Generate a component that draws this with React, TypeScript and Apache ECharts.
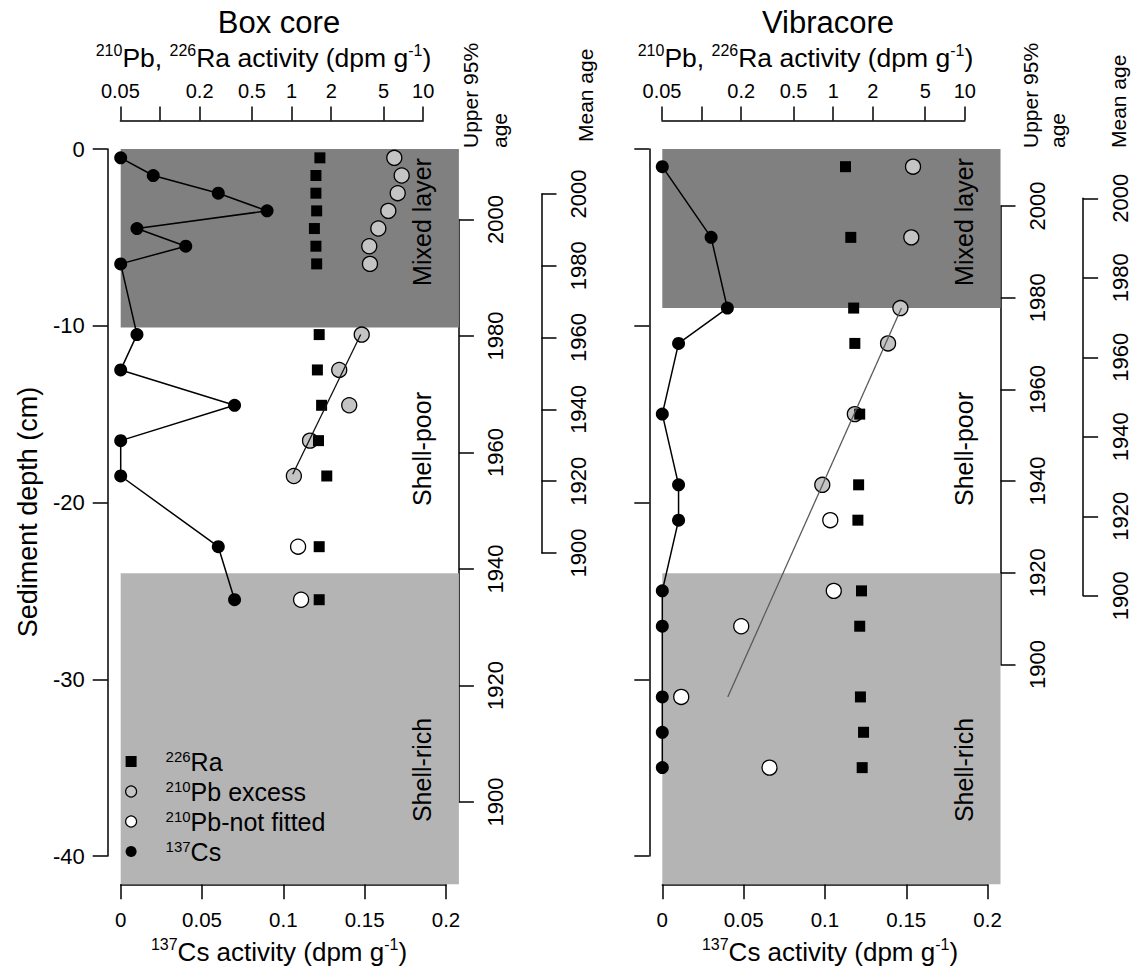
import React, { useEffect, useRef } from "react";
import * as echarts from "echarts";

// ----------------------------- data -----------------------------
// Box core
const BOX_DEPTH = [-0.5, -1.5, -2.5, -3.5, -4.5, -5.5, -6.5, -10.5, -12.5, -14.5, -16.5, -18.5, -22.5, -25.5];
const BOX_CS = [0, 0.02, 0.06, 0.09, 0.01, 0.04, 0, 0.01, 0, 0.07, 0, 0, 0.06, 0.07];
const BOX_RA = [1.64, 1.53, 1.53, 1.55, 1.49, 1.53, 1.55, 1.62, 1.57, 1.69, 1.6, 1.85, 1.62, 1.62];
const BOX_PB_EXCESS_DEPTH = [-0.5, -1.5, -2.5, -3.5, -4.5, -5.5, -6.5, -10.5, -12.5, -14.5, -16.5, -18.5];
const BOX_PB_EXCESS = [6.03, 6.86, 6.4, 5.43, 4.56, 3.89, 3.94, 3.41, 2.3, 2.74, 1.38, 1.04];
const BOX_PB_NOTFIT_DEPTH = [-22.5, -25.5];
const BOX_PB_NOTFIT = [1.12, 1.18];
const BOX_FIT_DEPTH = [-10.5, -18.4];
const BOX_FIT = [3.35, 1.02];
const BOX_ZONE_TOPS = [0, -10.1, -24];

// Vibracore
const VIB_DEPTH = [-1, -5, -9, -11, -15, -19, -21, -25, -27, -31, -33, -35];
const VIB_CS = [0, 0.03, 0.04, 0.01, 0, 0.01, 0.01, 0, 0, 0, 0, 0];
const VIB_RA = [1.24, 1.36, 1.43, 1.46, 1.59, 1.56, 1.54, 1.64, 1.59, 1.61, 1.7, 1.66];
const VIB_PB_EXCESS_DEPTH = [-1, -5, -9, -11, -15, -19];
const VIB_PB_EXCESS = [4.04, 3.92, 3.24, 2.61, 1.46, 0.826];
const VIB_PB_NOTFIT_DEPTH = [-21, -25, -27, -31, -35];
const VIB_PB_NOTFIT = [0.95, 1.01, 0.2, 0.07, 0.328];
const VIB_FIT_DEPTH = [-9, -31];
const VIB_FIT = [3.3, 0.158];
const VIB_ZONE_TOPS = [0, -9, -24];

const ZONE_NAMES = ["Mixed layer", "Shell-poor", "Shell-rich"];
const ZONE_COLORS = ["#808080", "", "#b4b4b4"];

// axis ticks
const LOG_TICKS = [0.05, 0.1, 0.2, 0.5, 1, 2, 5, 10];
const LOG_LABELS = [0.05, 0.2, 0.5, 1, 2, 5, 10];
const CS_MIN = 0, CS_MAX = 0.2, CS_STEP = 0.05;
const DEPTH_MIN = -40, DEPTH_MAX = 0, DEPTH_STEP = 10;
const AGE_MIN = 1900, AGE_MAX = 2000, AGE_STEP = 20;

const LEGEND_PARTS: Record<string, [string, string]> = {
  "226Ra": ["226", "Ra"],
  "210Pb excess": ["210", "Pb excess"],
  "210Pb-not fitted": ["210", "Pb-not fitted"],
  "137Cs": ["137", "Cs"],
};

// ----------------------------- layout -----------------------------
const FONT = "'Liberation Sans', Arial, Helvetica, sans-serif";
const PLOT_TOP = 120.5;
const PLOT_BOTTOM = 884.3;
const DEPTH0_Y = 149;
const PX_PER_CM = 17.675;
const PLOT_W = 351.2;
const CS_OFF = 13;
const PX_PER_CS = 1626.5;
const LOG_OFF = 12.7;
const PX_PER_DEC = 131.6;
const MEAN_DX = 82.6;

const PANELS = [
  {
    title: "Box core", left: 107.7, titleX: 279, topTitleX: 263.5, botTitleX: 279,
    csDepth: BOX_DEPTH, cs: BOX_CS, raDepth: BOX_DEPTH, ra: BOX_RA,
    exDepth: BOX_PB_EXCESS_DEPTH, ex: BOX_PB_EXCESS, nfDepth: BOX_PB_NOTFIT_DEPTH, nf: BOX_PB_NOTFIT,
    fitDepth: BOX_FIT_DEPTH, fit: BOX_FIT, fitColor: "#111", zoneTops: BOX_ZONE_TOPS,
    upper: [219.5, 802], mean: [194, 553], depthLabels: true,
    upperTitleX: [470.5, 499], meanTitleX: 585, meanTitleY: 142,
  },
  {
    title: "Vibracore", left: 649.3, titleX: 828, topTitleX: 805.5, botTitleX: 830,
    csDepth: VIB_DEPTH, cs: VIB_CS, raDepth: VIB_DEPTH, ra: VIB_RA,
    exDepth: VIB_PB_EXCESS_DEPTH, ex: VIB_PB_EXCESS, nfDepth: VIB_PB_NOTFIT_DEPTH, nf: VIB_PB_NOTFIT,
    fitDepth: VIB_FIT_DEPTH, fit: VIB_FIT, fitColor: "#5a5a5a", zoneTops: VIB_ZONE_TOPS,
    upper: [206, 664.5], mean: [198.3, 595.8], depthLabels: false,
    upperTitleX: [1030.5, 1057.5], meanTitleX: 1118, meanTitleY: 148,
  },
];
const ZONE_LABEL_Y = [222, 449, 770];

function zip(xs: number[], ys: number[]) {
  return xs.map((x, i) => [x, ys[i]]);
}

function buildOption() {
  const grids: any[] = [];
  const xAxis: any[] = [];
  const yAxis: any[] = [];
  const series: any[] = [];
  const graphics: any[] = [];

  const lineStyle = { color: "#000", width: 1.5 };
  const axisLine = { show: true, onZero: false, lineStyle };
  const tick = (len: number, extra: any = {}) => ({ show: true, inside: false, length: len, lineStyle, ...extra });
  const addGrid = (left: number, top: number, width: number, height: number) => {
    grids.push({ left, top, width, height, containLabel: false, outerBoundsMode: "none", show: false });
    return grids.length - 1;
  };
  const hiddenAxis = (g: number) => ({ gridIndex: g, type: "value", min: 0, max: 1, show: false });

  const depthMin = -(PLOT_BOTTOM - DEPTH0_Y) / PX_PER_CM;
  const depthMax = (DEPTH0_Y - PLOT_TOP) / PX_PER_CM;
  const csMin = -CS_OFF / PX_PER_CS;
  const csMax = (PLOT_W - CS_OFF) / PX_PER_CS;
  const logMin = LOG_TICKS[0] * Math.pow(10, -LOG_OFF / PX_PER_DEC);
  const logMax = LOG_TICKS[0] * Math.pow(10, (PLOT_W - LOG_OFF) / PX_PER_DEC);

  const text = (x: number, y: number, t: string, fontSize: number, opts: any = {}) => ({
    type: "text", x, y, rotation: opts.rot || 0, silent: true, z: 100,
    style: {
      text: t, fontSize, fontFamily: FONT, fill: "#000",
      align: opts.align || "center", verticalAlign: opts.va || "middle",
      textAlign: opts.align || "center", textVerticalAlign: opts.va || "middle",
      rich: opts.rich,
    },
  });
  const mkRich = (m: number, s: number) => ({
    m: { fontSize: m, fontFamily: FONT, fill: "#000", lineHeight: m + 5 },
    s: { fontSize: s, fontFamily: FONT, fill: "#000", lineHeight: s, verticalAlign: "top" },
  });

  PANELS.forEach((p) => {
    const L = p.left;
    const R = L + PLOT_W;
    // ---- main data grid ----
    const g = addGrid(L, PLOT_TOP, PLOT_W, PLOT_BOTTOM - PLOT_TOP);
    const csX = xAxis.length;
    xAxis.push({ gridIndex: g, type: "value", position: "bottom", min: csMin, max: csMax, show: false });
    const logX = xAxis.length;
    xAxis.push({ gridIndex: g, type: "log", logBase: 10, position: "top", min: logMin, max: logMax, show: false });
    const dY = yAxis.length;
    yAxis.push({ gridIndex: g, type: "value", min: depthMin, max: depthMax, show: false });

    // zones
    const areas: any[] = [];
    p.zoneTops.forEach((top, i) => {
      if (!ZONE_COLORS[i]) return;
      const bottom = i + 1 < p.zoneTops.length ? p.zoneTops[i + 1] : depthMin;
      areas.push([
        { xAxis: 0, yAxis: top, itemStyle: { color: ZONE_COLORS[i], opacity: 1, borderWidth: 0 } },
        { xAxis: csMax, yAxis: bottom },
      ]);
    });
    series.push({
      type: "line", xAxisIndex: csX, yAxisIndex: dY, data: [], silent: true, z: 1,
      markArea: { silent: true, label: { show: false }, data: areas },
    });

    series.push({
      name: "137Cs", type: "line", xAxisIndex: csX, yAxisIndex: dY,
      data: zip(p.cs, p.csDepth), symbol: "circle", symbolSize: 13, showSymbol: true,
      itemStyle: { color: "#000" }, lineStyle: { color: "#000", width: 1.5 }, z: 3, silent: true,
    });
    series.push({
      name: "210Pb excess", type: "scatter", xAxisIndex: logX, yAxisIndex: dY,
      data: zip(p.ex, p.exDepth), symbol: "circle", symbolSize: 15,
      itemStyle: { color: "#c4c4c4", borderColor: "#000", borderWidth: 1.3, opacity: 1 }, z: 4, silent: true,
    });
    series.push({
      name: "210Pb-not fitted", type: "scatter", xAxisIndex: logX, yAxisIndex: dY,
      data: zip(p.nf, p.nfDepth), symbol: "circle", symbolSize: 15,
      itemStyle: { color: "#ffffff", borderColor: "#000", borderWidth: 1.3, opacity: 1 }, z: 4, silent: true,
    });
    series.push({
      name: "226Ra", type: "scatter", xAxisIndex: logX, yAxisIndex: dY,
      data: zip(p.ra, p.raDepth), symbol: "rect", symbolSize: 11,
      itemStyle: { color: "#000", opacity: 1 }, z: 5, silent: true,
    });
    series.push({
      type: "line", xAxisIndex: logX, yAxisIndex: dY, data: zip(p.fit, p.fitDepth),
      symbol: "none", lineStyle: { color: p.fitColor, width: 1.3 }, z: 6, silent: true,
    });

    // ---- bottom Cs axis ----
    const gb = addGrid(L + CS_OFF, PLOT_BOTTOM - 10, (CS_MAX - CS_MIN) * PX_PER_CS, 10);
    xAxis.push({
      gridIndex: gb, type: "value", position: "bottom", min: CS_MIN, max: CS_MAX, interval: CS_STEP,
      axisLine, axisTick: tick(15), splitLine: { show: false },
      axisLabel: { show: true, margin: 25, fontSize: 20.5, fontFamily: FONT, color: "#000", showMinLabel: true, showMaxLabel: true },
    });
    yAxis.push(hiddenAxis(gb));

    // ---- top log axis ----
    const lt = LOG_TICKS.map((v) => Math.log10(v));
    const gt = addGrid(L + LOG_OFF, PLOT_TOP, (lt[lt.length - 1] - lt[0]) * PX_PER_DEC, 10);
    xAxis.push({
      gridIndex: gt, type: "value", position: "top", min: lt[0], max: lt[lt.length - 1],
      axisLine, axisTick: tick(14, { customValues: lt }), splitLine: { show: false },
      axisLabel: {
        show: true, margin: 20, fontSize: 20, fontFamily: FONT, color: "#000",
        customValues: LOG_LABELS.map((v) => Math.log10(v)), showMinLabel: true, showMaxLabel: true,
        formatter: (v: number) => {
          let best = LOG_LABELS[0];
          LOG_LABELS.forEach((l) => { if (Math.abs(Math.log10(l) - v) < Math.abs(Math.log10(best) - v)) best = l; });
          return String(best);
        },
      },
    });
    yAxis.push(hiddenAxis(gt));

    // ---- left depth axis ----
    const gl = addGrid(L, DEPTH0_Y - DEPTH_MAX * PX_PER_CM, 10, (DEPTH_MAX - DEPTH_MIN) * PX_PER_CM);
    yAxis.push({
      gridIndex: gl, type: "value", position: "left", min: DEPTH_MIN, max: DEPTH_MAX, interval: DEPTH_STEP,
      axisLine, axisTick: tick(15), splitLine: { show: false },
      axisLabel: { show: p.depthLabels, margin: 23, fontSize: 22, fontFamily: FONT, color: "#000", showMinLabel: true, showMaxLabel: true },
    });
    xAxis.push(hiddenAxis(gl));

    // ---- age axes ----
    const ageAxis = (x: number, top: number, bottom: number) => {
      const ga = addGrid(x - 10, top, 10, bottom - top);
      yAxis.push({
        gridIndex: ga, type: "value", position: "right", min: AGE_MIN, max: AGE_MAX, interval: AGE_STEP,
        axisLine, axisTick: tick(15), splitLine: { show: false },
        axisLabel: {
          show: true, rotate: 90, margin: 26, fontSize: 22, fontFamily: FONT, color: "#000",
          showMinLabel: true, showMaxLabel: true, formatter: (v: number) => String(v),
        },
      });
      xAxis.push(hiddenAxis(ga));
    };
    ageAxis(R, p.upper[0], p.upper[1]);
    ageAxis(R + MEAN_DX, p.mean[0], p.mean[1]);

    // ---- texts ----
    graphics.push(text(p.titleX, 22.5, p.title, 31));
    graphics.push(text(p.topTitleX, 58, "{s|210}{m|Pb, }{s|226}{m|Ra activity (dpm g}{s|-1}{m|)}", 26.5, { rich: mkRich(26.5, 16) }));
    graphics.push(text(p.botTitleX, 952, "{s|137}{m|Cs activity (dpm g}{s|-1}{m|)}", 26, { rich: mkRich(26, 16) }));
    graphics.push(text(p.upperTitleX[0], 148, "Upper 95%", 21, { rot: Math.PI / 2, align: "left" }));
    graphics.push(text(p.upperTitleX[1], 148, "age", 21, { rot: Math.PI / 2, align: "left" }));
    graphics.push(text(p.meanTitleX, p.meanTitleY, "Mean age", 21, { rot: Math.PI / 2, align: "left" }));
    ZONE_NAMES.forEach((n, i) => {
      graphics.push(text(R - 37, ZONE_LABEL_Y[i], n, 25, { rot: Math.PI / 2 }));
    });
  });

  graphics.push(text(28, 512, "Sediment depth (cm)", 27, { rot: Math.PI / 2 }));

  const legendStyle = (name: string) => {
    if (name === "226Ra") return { color: "#000", borderWidth: 0 };
    if (name === "137Cs") return { color: "#000", borderWidth: 0 };
    if (name === "210Pb excess") return { color: "#c4c4c4", borderColor: "#000", borderWidth: 1.2 };
    return { color: "#fff", borderColor: "#000", borderWidth: 1.2 };
  };

  return {
    animation: false,
    backgroundColor: "#fff",
    grid: grids,
    xAxis,
    yAxis,
    series,
    legend: {
      show: true, orient: "vertical", left: 125, top: 748.5, itemWidth: 11, itemHeight: 11, itemGap: 4.5,
      selectedMode: false, padding: 0,
      data: Object.keys(LEGEND_PARTS).map((name) => ({
        name, icon: name === "226Ra" ? "rect" : "circle", itemStyle: legendStyle(name),
      })),
      formatter: (name: string) => {
        const parts = LEGEND_PARTS[name];
        return `{g| }{s|${parts[0]}}{m|${parts[1]}}`;
      },
      textStyle: {
        fontFamily: FONT, color: "#000",
        rich: {
          g: { width: 24, fontSize: 12, lineHeight: 12 },
          s: { fontSize: 15, fontFamily: FONT, color: "#000", lineHeight: 15, verticalAlign: "top" },
          m: { fontSize: 25, fontFamily: FONT, color: "#000", lineHeight: 26 },
        },
      },
    },
    graphic: { elements: graphics },
  };
}

export default function App() {
  const ref = useRef<HTMLDivElement>(null);
  useEffect(() => {
    if (!ref.current) return;
    const chart = echarts.init(ref.current, undefined, { renderer: "svg" });
    chart.setOption(buildOption() as any);
    return () => chart.dispose();
  }, []);
  return (
    <div
      ref={ref}
      style={{ position: "absolute", left: 0, top: 0, width: 1132, height: 974, background: "#fff" }}
    />
  );
}
